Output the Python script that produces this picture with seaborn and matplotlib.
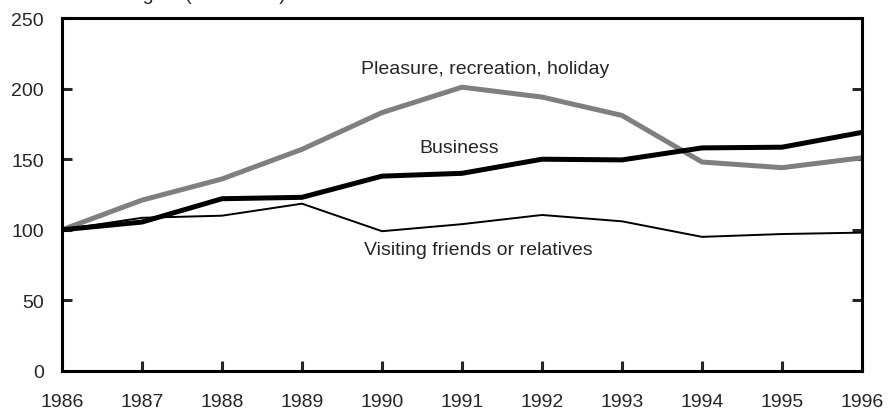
import pandas as pd
import matplotlib
matplotlib.use("Agg")
import matplotlib.pyplot as plt
import seaborn as sns

years = [1986, 1987, 1988, 1989, 1990, 1991, 1992, 1993, 1994, 1995, 1996]
pleasure = [100, 121, 136, 157, 183, 201, 194, 181, 148, 144, 151]
business = [100, 105.5, 122, 123, 138, 140, 150, 149.5, 158, 158.5, 169]
visiting = [100, 108.5, 110, 118.5, 99, 104, 110.5, 106, 95, 97, 98]

sns.set_style("ticks")
plt.rcParams["font.family"] = ["Liberation Sans", "DejaVu Sans"]
plt.rcParams["font.size"] = 14

fig = plt.figure(figsize=(8.9, 4.1), dpi=100)
ax = fig.add_axes([62 / 890, 38 / 410, 800 / 890, 353 / 410])

df = pd.DataFrame({"year": years, "pleasure": pleasure,
                   "business": business, "visiting": visiting})

sns.lineplot(data=df, x="year", y="pleasure", color="#7f7f7f", lw=3.6, ax=ax)
sns.lineplot(data=df, x="year", y="business", color="black", lw=3.6, ax=ax)
sns.lineplot(data=df, x="year", y="visiting", color="black", lw=1.4, ax=ax)

ax.text(1991.29, 214, "Pleasure, recreation, holiday", ha="center", va="center", fontsize=14)
ax.text(1990.97, 158.6, "Business", ha="center", va="center", fontsize=14)
ax.text(1991.2, 86.4, "Visiting friends or relatives", ha="center", va="center", fontsize=14)

ax.set_xlim(1986, 1996)
ax.set_ylim(0, 250)
ax.set_xticks(years)
ax.set_yticks([0, 50, 100, 150, 200, 250])
ax.set_xlabel("")
ax.set_ylabel("")

for s in ax.spines.values():
    s.set_visible(True)
    s.set_linewidth(2.2)
    s.set_color("black")

ax.tick_params(axis="y", direction="in", length=7, width=2.2, right=True,
               labelsize=14, pad=13)
ax.tick_params(axis="x", direction="in", length=7, width=2.2,
               labelsize=14, pad=16)

# title sits mostly above the image edge, as in the source
fig.text(0.0, 1.0, "Arrivals to the region (1986=100)",
         ha="left", va="baseline", fontsize=14)

fig.savefig("out.png", dpi=100)
